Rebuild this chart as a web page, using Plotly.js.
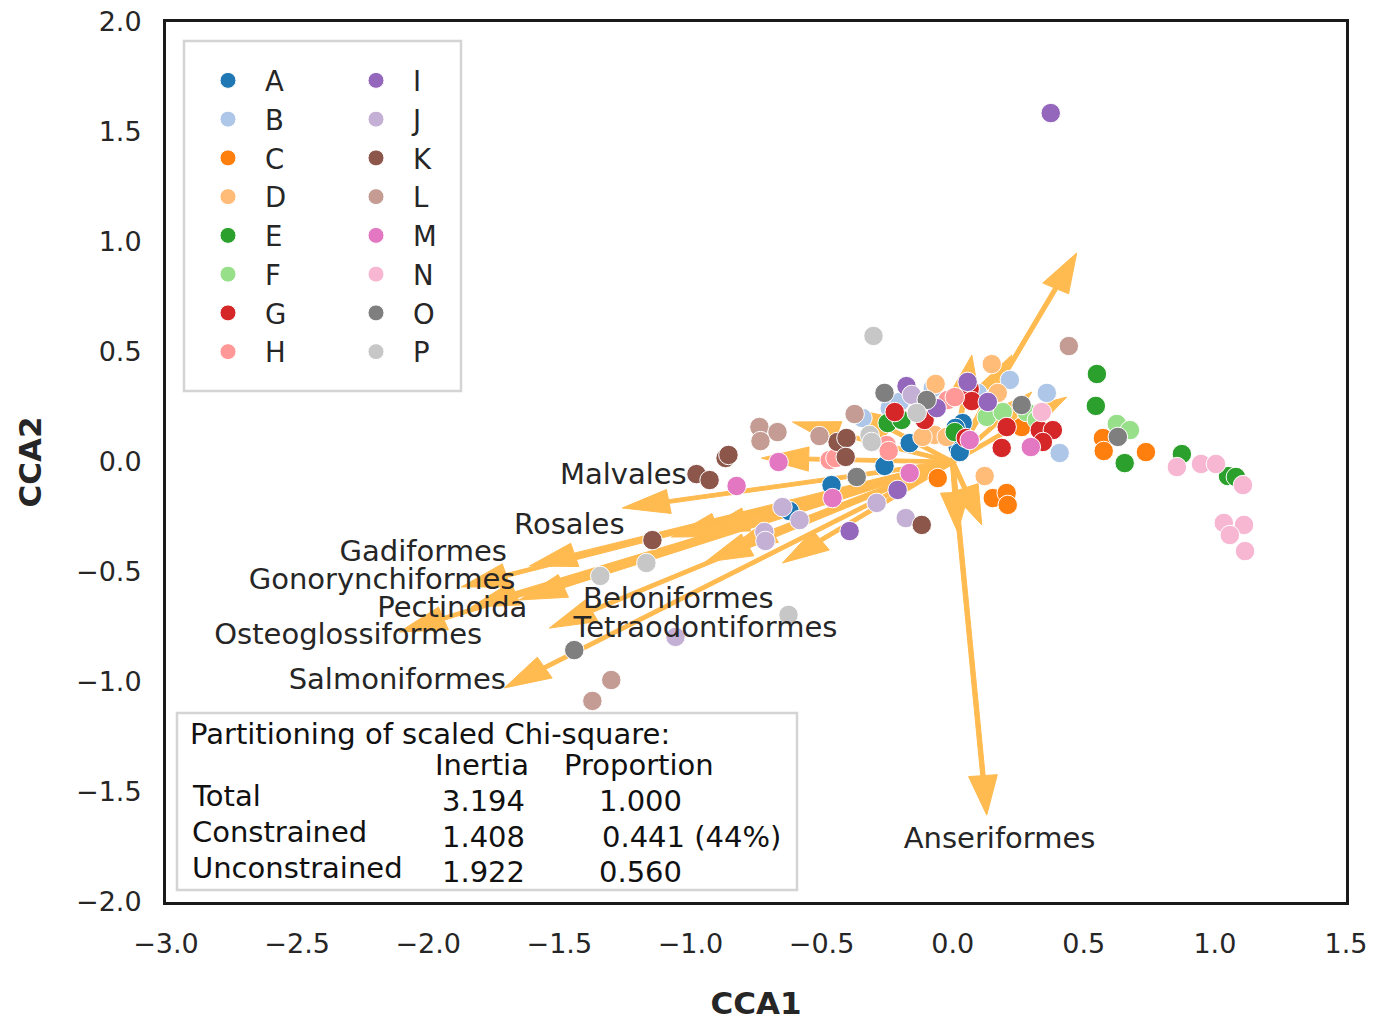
<!DOCTYPE html>
<html><head><meta charset="utf-8">
<script src="https://cdn.plot.ly/plotly-3.0.1.min.js"></script>
<style>html,body{margin:0;padding:0;background:#fff}</style>
</head><body>
<div id="chart" style="width:1376px;height:1021px"></div>
<script>
// ---- Site scores (CCA1, CCA2) per group ----
const groupNames = ['A','B','C','D','E','F','G','H','I','J','K','L','M','N','O','P'];
const groupColors = ['#1f77b4','#aec7e8','#ff7f0e','#ffbb78','#2ca02c','#98df8a','#d62728','#ff9896',
                     '#9467bd','#c5b0d5','#8c564b','#c49c94','#e377c2','#f7b6d2','#7f7f7f','#c7c7c7'];
const xA = [-0.462,-0.260,-0.164,0.019,0.038,-0.622,0.027,0.011];
const yA = [-0.105,-0.018,0.086,0.068,0.177,-0.223,0.045,0.155];
const xB = [-0.344,-0.240,-0.202,-0.076,0.218,0.359,0.408,0.095];
const yB = [0.200,0.245,0.273,0.336,0.373,0.314,0.041,0.314];
const xC = [-0.057,0.153,0.206,0.210,0.573,0.576,0.737,0.263];
const yC = [-0.073,-0.164,-0.141,-0.195,0.109,0.050,0.045,0.159];
const xD = [0.149,-0.065,0.172,-0.069,-0.023,0.122,-0.115];
const yD = [0.445,0.355,0.314,0.123,0.114,-0.064,0.114];
const xE = [0.550,0.546,0.656,0.874,1.050,1.080,-0.248,-0.195,0.008];
const yE = [0.400,0.255,-0.005,0.036,-0.064,-0.068,0.177,0.191,0.136];
const xF = [0.626,0.676,0.130,0.191,0.282,0.321];
const yF = [0.173,0.145,0.205,0.227,0.227,0.191];
const xG = [-0.221,-0.107,0.065,0.073,0.050,0.206,0.332,0.382,0.344,0.187];
const yG = [0.227,0.191,0.332,0.277,0.109,0.159,0.145,0.145,0.091,0.064];
const xH = [-0.469,-0.447,-0.252,-0.244,-0.019,0.008];
const yH = [0.009,0.018,0.077,0.050,0.282,0.295];
const xI = [0.374,-0.176,-0.210,-0.061,-0.393,0.057,0.134];
const yI = [1.586,0.345,-0.127,0.245,-0.314,0.364,0.273];
const xJ = [-0.156,-0.290,-0.179,-0.649,-0.584,-0.718,-0.714,-1.057];
const yJ = [0.305,-0.186,-0.255,-0.205,-0.264,-0.318,-0.359,-0.795];
const xK = [-0.439,-0.405,-0.408,-0.118,-0.977,-0.927,-0.866,-0.855,-1.145];
const yK = [0.091,0.109,0.023,-0.286,-0.055,-0.082,0.018,0.032,-0.355];
const xL = [0.443,-0.737,-0.668,-0.733,-0.508,-0.374,-1.302,-1.374];
const yL = [0.527,0.159,0.136,0.095,0.118,0.218,-0.991,-1.086];
const xM = [-0.664,-0.458,-0.164,0.298,-0.824,0.065];
const yM = [0.000,-0.164,-0.050,0.068,-0.109,0.100];
const xN = [0.855,0.947,1.004,1.107,1.034,1.111,1.057,1.115,0.340];
const yN = [-0.023,-0.009,-0.009,-0.105,-0.277,-0.286,-0.332,-0.405,0.227];
const xO = [-0.366,-0.260,-0.099,-1.443,0.263,0.630];
const yO = [-0.068,0.314,0.282,-0.855,0.259,0.114];
const xP = [-0.302,-0.317,-0.309,-0.137,-1.344,-1.168,-0.626];
const yP = [0.573,0.123,0.091,0.223,-0.518,-0.459,-0.695];

// ---- Environmental / taxon vectors (arrow tips) ----
const arrowX = [0.473,0.130,0.019,0.111,-1.710,-2.111,-1.836,-1.874,-1.614,-1.260,-1.538,-0.649,
                -1.073,-0.958,-0.851,-0.611,-0.729,0.073,0.225,0.302,0.435,-0.390,-0.944,-1.653];
const arrowY = [0.950,-1.605,-0.318,-0.286,-1.027,-0.773,-0.659,-0.568,-0.473,-0.209,-0.755,-0.459,
                -0.341,-0.318,-0.391,0.182,0.018,0.486,0.486,0.318,0.295,0.245,-0.455,-0.627];

// ---- Vector labels ----
const labelNames = ['Malvales','Rosales','Gadiformes','Gonorynchiformes','Pectinoida',
                    'Osteoglossiformes','Salmoniformes','Beloniformes','Tetraodontiformes','Anseriformes'];
const labelX = [-1.256,-1.462,-2.019,-2.176,-1.908,-2.305,-2.118,-1.046,-0.943,0.179];
const labelY = [-0.068,-0.295,-0.418,-0.545,-0.673,-0.795,-1.000,-0.632,-0.764,-1.723];

// ---- Inertia table ----
const tableTitle = 'Partitioning of scaled Chi-square:';
const tableHeader = ['Inertia','Proportion'];
const tableRows = ['Total','Constrained','Unconstrained'];
const tableInertia = ['3.194','1.408','1.922'];
const tableProportion = ['1.000','0.441 (44%)','0.560'];

const groupX = [xA,xB,xC,xD,xE,xF,xG,xH,xI,xJ,xK,xL,xM,xN,xO,xP];
const groupY = [yA,yB,yC,yD,yE,yF,yG,yH,yI,yJ,yK,yL,yM,yN,yO,yP];

const arrowColor = '#ffba50';
const headHalf = 0.055, headLen = 0.18, shaftHalf = 0.0085;
const ax = [], ay = [];
for (let i = 0; i < arrowX.length; i++) {
  const tx = arrowX[i], ty = arrowY[i];
  const L = Math.hypot(tx, ty);
  const ux = tx / L, uy = ty / L, nx = -uy, ny = ux;
  const bx = tx - headLen * ux, by = ty - headLen * uy;
  const pts = [
    [shaftHalf*nx, shaftHalf*ny],
    [bx + shaftHalf*nx, by + shaftHalf*ny],
    [bx + headHalf*nx, by + headHalf*ny],
    [tx, ty],
    [bx - headHalf*nx, by - headHalf*ny],
    [bx - shaftHalf*nx, by - shaftHalf*ny],
    [-shaftHalf*nx, -shaftHalf*ny],
    [shaftHalf*nx, shaftHalf*ny]
  ];
  pts.forEach(p => { ax.push(p[0]); ay.push(p[1]); });
  ax.push(null); ay.push(null);
}

const traces = [{
  type:'scatter', mode:'lines', x:ax, y:ay, fill:'toself', fillcolor:arrowColor,
  line:{color:arrowColor, width:1}, hoverinfo:'skip', showlegend:false, connectgaps:false
}];

groupNames.forEach((g, i) => {
  traces.push({
    type:'scatter', mode:'markers', name:g, x:groupX[i], y:groupY[i],
    marker:{color:groupColors[i], size:19.5, line:{color:'#ffffff', width:1}},
    legend: i < 8 ? 'legend' : 'legend2'
  });
});

traces.push({
  type:'scatter', mode:'text', x:labelX, y:labelY, text:labelNames,
  textposition:'middle center', textfont:{family:'DejaVu Sans', size:29, color:'#262626'},
  hoverinfo:'skip', showlegend:false
});

const W = 1376, H = 1021, ml = 166, mr = 30, mt = 22, mb = 119;
const pw = W - ml - mr, ph = H - mt - mb;
const px = v => (v - ml) / pw;
const py = v => (H - mb - v) / ph;

const annotations = [];
const tf = {family:'DejaVu Sans', size:29, color:'#111111'};
function addText(t, x, y) {
  annotations.push({text:t, xref:'paper', yref:'paper', x:px(x), y:py(y), xanchor:'left', yanchor:'middle',
    showarrow:false, font:tf, borderpad:0});
}
addText(tableTitle, 189, 734);
addText(tableHeader[0], 434, 765);
addText(tableHeader[1], 563, 765);
const rowY = [796, 832, 868], valY = [801, 837, 872], propX = [598, 601, 598];
tableRows.forEach((r, i) => {
  addText(r, 191, rowY[i]);
  addText(tableInertia[i], 441, valY[i]);
  addText(tableProportion[i], propX[i], valY[i]);
});

const legendFont = {family:'DejaVu Sans', size:27.5, color:'#262626'};
const layout = {
  width:W, height:H,
  margin:{l:ml, r:mr, t:mt, b:mb, pad:0},
  paper_bgcolor:'#ffffff', plot_bgcolor:'#ffffff',
  font:{family:'DejaVu Sans', color:'#262626', size:27},
  showlegend:true,
  xaxis:{range:[-3,1.5], tick0:-3, dtick:0.5, tickformat:'.1f', showgrid:false, zeroline:false,
    showline:true, mirror:true, linecolor:'#1a1a1a', linewidth:3, ticks:'', ticklabelstandoff:16,
    tickfont:{size:27, color:'#262626'},
    title:{text:'<b>CCA1</b>', font:{size:31, color:'#262626'}, standoff:48}},
  yaxis:{range:[-2,2], tick0:-2, dtick:0.5, tickformat:'.1f', showgrid:false, zeroline:false,
    showline:true, mirror:true, linecolor:'#1a1a1a', linewidth:3, ticks:'', ticklabelstandoff:16,
    tickfont:{size:27, color:'#262626'},
    title:{text:'<b>CCA2</b>', font:{size:31, color:'#262626'}, standoff:26}},
  legend:{x:px(191), y:py(56), xanchor:'left', yanchor:'top', bgcolor:'rgba(0,0,0,0)',
    borderwidth:0, font:legendFont, itemsizing:'trace', itemwidth:64, tracegroupgap:0},
  legend2:{x:px(339), y:py(56), xanchor:'left', yanchor:'top', bgcolor:'rgba(0,0,0,0)',
    borderwidth:0, font:legendFont, itemsizing:'trace', itemwidth:64, tracegroupgap:0},
  shapes:[
    {type:'rect', xref:'paper', yref:'paper', x0:px(184), x1:px(461), y0:py(391), y1:py(41),
     line:{color:'#d4d4d4', width:2.5}, fillcolor:'#ffffff', layer:'below'},
    {type:'rect', xref:'paper', yref:'paper', x0:px(177), x1:px(797), y0:py(890), y1:py(713),
     line:{color:'#d4d4d4', width:2.5}, fillcolor:'#ffffff', layer:'above'}
  ],
  annotations:annotations
};

Plotly.newPlot('chart', traces, layout, {displayModeBar:false, staticPlot:true});
</script>
</body></html>
